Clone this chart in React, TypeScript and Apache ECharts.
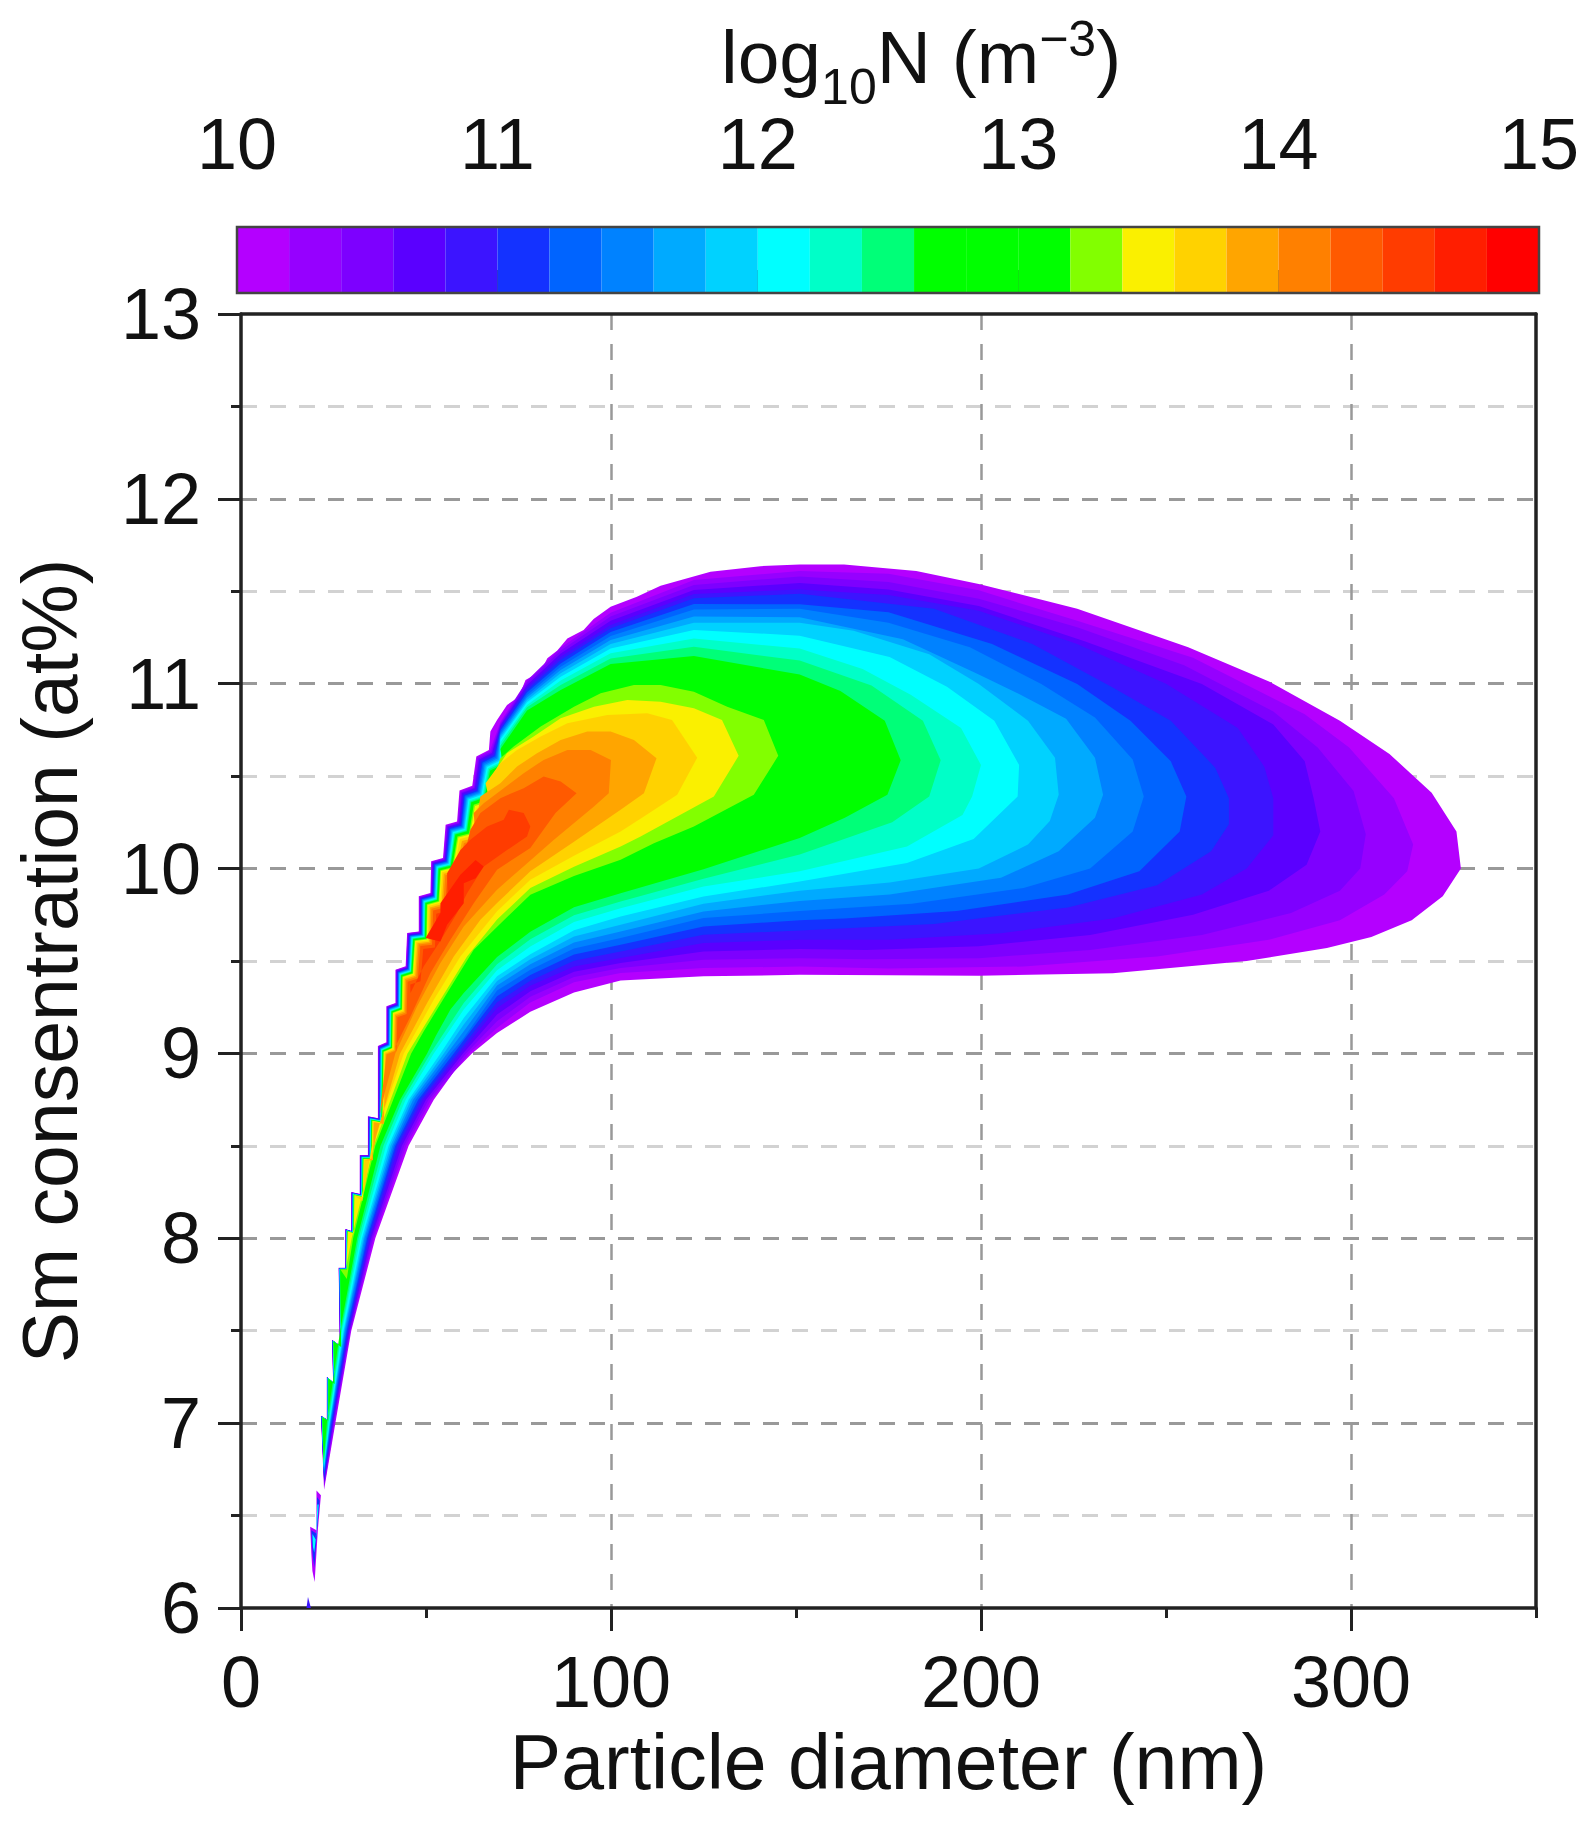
import React, { useEffect, useRef } from "react";
import * as echarts from "echarts";

type P = [number, number];

const FONT = "Liberation Sans";
const xTickValues = [0, 100, 200, 300];
const barColors = ["#B400FF","#9600FF","#7D00FF","#5A00FF","#3C14FF","#1432FF","#0064FF","#0082FF","#00AAFF","#00D2FF","#00FFFF","#00FFC8","#00FF78","#00FF00","#00FF00","#00FF00","#82FF00","#FAF000","#FFD200","#FFA500","#FF8000","#FF5A00","#FF3C00","#FF1E00","#FF0000"];
const barStart = 10;
const barStep = 0.2;

// Stepped left edge of the populated region (x nm, y at%), bottom to top
const stairEdge: P[] = [[21.6,7.04],[23.2,7.02],[23.2,7.25],[24.9,7.22],[24.6,7.45],[26.7,7.42],[26.4,7.84],[28.2,7.84],[28.2,8.05],[29.8,8.04],[29.8,8.25],[32.1,8.24],[32.1,8.45],[34.3,8.45],[34.3,8.66],[37,8.65],[37,9.04],[39.3,9.06],[39.3,9.255],[41.76,9.273],[41.76,9.453],[44.5,9.471],[44.9,9.652],[48.05,9.66],[48.05,9.85],[51.2,9.868],[51.4,10.04],[54.6,10.057],[55.3,10.237],[58.4,10.255],[59.05,10.422],[62.5,10.448],[63.6,10.606],[67,10.642]];

// Contour lines: lower arc to the tip, then upper arc back to the stepped edge
const low100: P[] = [[22.45,6.64],[25.5,7],[29.8,7.5],[36.3,8],[45.3,8.5],[52.1,8.75],[57.5,8.9],[62.4,9],[69.2,9.11],[78.2,9.225],[90,9.33],[102.6,9.395],[125,9.417],[151,9.425],[199.4,9.42],[235.6,9.434],[271.8,9.5],[293.5,9.57],[305.5,9.63],[316.4,9.72],[324.8,9.85],[329.7,10]];
const up100: P[] = [[328.5,10.2],[321.8,10.41],[310.4,10.62],[297,10.8],[278,11.01],[256,11.197],[226,11.405],[199.4,11.54],[182.5,11.61],[163,11.645],[151,11.645],[140.4,11.636],[126.9,11.606],[113.4,11.53],[107,11.47],[99.9,11.417],[95.3,11.35],[92.6,11.29],[88.2,11.245],[85.5,11.18],[82.8,11.138],[80.9,11.065],[76.9,11.02],[75.1,10.93],[71.9,10.885],[69.2,10.804],[67.4,10.741]];
const low102: P[] = [[22.5,6.66],[25.3,7],[29.6,7.5],[35.9,8],[44.7,8.5],[51.4,8.75],[61.6,9],[69.2,9.138],[78.2,9.276],[90,9.385],[102.6,9.435],[125,9.462],[151,9.47],[175,9.46],[211.5,9.47],[247.6,9.525],[277.8,9.615],[297,9.72],[309,9.86],[315.2,9.985],[316.8,10.13]];
const up102: P[] = [[311.6,10.38],[299.5,10.655],[287.5,10.835],[257.3,11.14],[226,11.34],[199.4,11.505],[175,11.595],[151,11.61],[122.4,11.561],[99.9,11.384],[86.4,11.195],[77.3,11.018],[70.1,10.793]];
const low104: P[] = [[22.5,6.67],[25.1,7],[29.5,7.5],[35.6,8],[44.1,8.5],[50.7,8.75],[60.8,9],[69.2,9.174],[78.2,9.307],[90,9.414],[102.6,9.462],[125,9.507],[151,9.515],[169,9.51],[199.4,9.515],[229.5,9.56],[259.7,9.64],[283.8,9.76],[297,9.88],[302.5,10],[304,10.185]];
const up104: P[] = [[300.7,10.42],[291,10.655],[279,10.85],[254.9,11.1],[226,11.305],[199.4,11.46],[175,11.55],[151,11.58],[122.4,11.534],[99.9,11.363],[86.4,11.179],[77.3,11.006],[70.1,10.784]];
const low106: P[] = [[22.5,6.68],[24.9,7],[29.3,7.5],[35.2,8],[43.5,8.5],[50,8.75],[60,9],[69.2,9.21],[78.2,9.337],[90,9.442],[102.6,9.489],[125,9.552],[151,9.565],[169,9.56],[199.4,9.58],[229.5,9.64],[257.3,9.75],[277.8,9.88],[288,10.02],[291.7,10.2]];
const up106: P[] = [[289.9,10.38],[287.5,10.58],[279,10.78],[259.7,10.998],[228,11.23],[199.4,11.42],[175,11.51],[151,11.545],[122.4,11.507],[99.9,11.341],[86.4,11.163],[77.3,10.993],[70.1,10.775]];
const low108: P[] = [[22.45,6.69],[24.8,7],[29.1,7.5],[34.9,8],[42.8,8.5],[49.3,8.75],[59.2,9],[69.2,9.246],[78.2,9.366],[90,9.47],[102.6,9.516],[125,9.597],[151,9.615],[175,9.615],[205.4,9.65],[235.6,9.73],[259.7,9.86],[271.8,10],[279,10.18]];
const up108: P[] = [[279,10.38],[276.6,10.55],[269.4,10.76],[250,11],[226,11.215],[199.4,11.395],[175,11.48],[151,11.51],[122.4,11.485],[99.9,11.318],[86.4,11.146],[77.3,10.981],[70.1,10.766]];
const low110: P[] = [[22.45,6.7],[24.6,7],[28.9,7.5],[34.5,8],[42.2,8.5],[48.6,8.75],[58.4,9],[69.2,9.277],[78.2,9.393],[90,9.502],[102.6,9.552],[125,9.642],[151,9.665],[187.3,9.7],[223.5,9.79],[247.6,9.91],[262.2,10.094],[267,10.24],[267,10.38]];
const up110: P[] = [[263.3,10.546],[251.3,10.8],[235.6,10.98],[213.9,11.215],[187.3,11.405],[151,11.486],[122.4,11.462],[99.9,11.3],[86.4,11.128],[77.3,10.966],[70.1,10.755]];
const low112: P[] = [[22.45,6.72],[24.4,7],[28.6,7.5],[34.1,8],[41.7,8.5],[47.9,8.75],[57.5,9],[69.2,9.309],[78.2,9.424],[90,9.535],[102.6,9.588],[125,9.687],[151,9.72],[163,9.73],[193.4,9.77],[223.5,9.86],[242.8,9.985],[253.7,10.2],[255.5,10.39]];
const up112: P[] = [[251.3,10.58],[240.4,10.8],[226,10.998],[203,11.215],[175,11.387],[151,11.43],[122.4,11.431],[99.9,11.28],[86.4,11.11],[77.3,10.952],[70.1,10.745]];
const low114: P[] = [[22.4,6.73],[24.2,7],[28.4,7.5],[33.8,8],[41.3,8.5],[47.2,8.75],[56.6,9],[60.2,9.084],[69.2,9.34],[78.2,9.453],[90,9.567],[102.6,9.624],[125,9.732],[151,9.77],[181.3,9.81],[211.5,9.895],[229.5,10],[241,10.2],[244,10.39]];
const up114: P[] = [[241,10.59],[230.8,10.817],[216.3,10.998],[197,11.197],[175,11.33],[151,11.405],[122.4,11.402],[99.9,11.258],[86.4,11.092],[77.3,10.937],[70.1,10.734]];
const low116: P[] = [[22.4,6.74],[24.1,7],[28.1,7.5],[33.4,8],[40.9,8.5],[46.5,8.75],[55.7,9],[60.2,9.12],[69.2,9.367],[78.2,9.483],[90,9.6],[102.6,9.66],[125,9.768],[151,9.825],[175.3,9.86],[205.4,9.95],[221,10.094],[230.8,10.275],[233,10.4]];
const up116: P[] = [[230.8,10.6],[223,10.81],[210.3,10.944],[199.4,11.05],[178.9,11.24],[151,11.36],[122.4,11.363],[99.9,11.237],[86.4,11.074],[77.3,10.925],[70.1,10.723]];
const low118: P[] = [[22.4,6.75],[24,7],[27.9,7.5],[33.1,8],[40.4,8.5],[45.9,8.75],[54.8,9],[60.2,9.156],[69.2,9.392],[78.2,9.51],[90,9.632],[102.6,9.696],[125,9.81],[151,9.88],[175.3,9.925],[199.4,10],[212.7,10.13],[218.6,10.257],[221,10.4]];
const up118: P[] = [[220,10.6],[212.7,10.8],[199.4,10.998],[186,11.16],[165.6,11.287],[151,11.33],[122.4,11.33],[99.9,11.215],[86.4,11.056],[77.3,10.912],[70.1,10.71]];
const low120: P[] = [[22.4,6.76],[23.9,7],[27.7,7.5],[32.7,8],[39.9,8.5],[45.3,8.75],[53.9,9],[60.2,9.192],[69.2,9.417],[78.2,9.537],[90,9.667],[102.6,9.741],[125,9.849],[151,9.93],[180,10.03],[198,10.16],[209.9,10.39]];
const up120: P[] = [[210.3,10.56],[203.6,10.8],[190.8,10.984],[175.3,11.145],[151,11.26],[122.4,11.291],[99.9,11.191],[86.4,11.038],[77.3,10.9],[70.1,10.698]];
const low122: P[] = [[22.4,6.77],[23.7,7],[27.3,7.5],[32.3,8],[39.2,8.5],[44.5,8.75],[52.1,9],[60.2,9.237],[69.2,9.45],[78.2,9.579],[90,9.711],[102.6,9.786],[125,9.903],[151,9.985],[180,10.12],[195,10.29],[197.6,10.39]];
const up122: P[] = [[200,10.56],[194.6,10.76],[181,10.94],[168,11.08],[151,11.19],[122.4,11.245],[99.9,11.165],[86.4,11.017],[77.3,10.885],[70.1,10.682]];
const low124: P[] = [[22.35,6.78],[23.5,7],[27.1,7.5],[31.8,8],[38.5,8.5],[43.7,8.75],[51.2,9],[60.2,9.273],[69.2,9.482],[78.2,9.618],[90,9.748],[102.6,9.822],[125,9.945],[151,10.076],[176,10.25],[186,10.39]];
const up124: P[] = [[189.1,10.586],[184.3,10.8],[170.4,10.99],[151,11.125],[122.4,11.2],[99.9,11.137],[86.4,10.993],[77.3,10.873],[70.1,10.665]];
const low126: P[] = [[22.35,6.8],[23.2,7],[26.8,7.5],[31.4,8],[37.7,8.5],[43,8.75],[50.3,9],[52.6,9.093],[56.6,9.237],[60.2,9.327],[69.2,9.522],[78.2,9.658],[90,9.791],[102.6,9.867],[125,9.997],[151,10.166],[163.2,10.275],[174.7,10.4]];
const up126: P[] = [[178.3,10.586],[174,10.8],[162,10.96],[151,11.05],[122.4,11.15],[99.9,11.107],[86.4,10.966],[77.3,10.855],[70.1,10.647]];
const low132: P[] = [[28.6,7.78],[30.3,8],[36.3,8.5],[46,9],[49.4,9.12],[55.7,9.327],[62.9,9.561],[70,9.7],[78.2,9.859],[90,9.96],[102.6,10.048],[111.6,10.137],[122.4,10.227],[138.6,10.399],[145.2,10.61]];
const up132: P[] = [[141.3,10.804],[131.4,10.876],[122.4,10.957],[113.4,10.993],[106.2,10.993],[97.2,10.948],[90,10.876],[81,10.768],[73.7,10.66],[70.1,10.597]];
const low134: P[] = [[28.5,7.85],[29.9,8],[35.9,8.5],[45,9],[53.9,9.29],[61.1,9.525],[69.2,9.724],[78.2,9.895],[90,10.01],[102.6,10.12],[108,10.173],[127.8,10.39],[134.5,10.61]];
const up134: P[] = [[130,10.804],[122.4,10.867],[113.4,10.903],[104.4,10.912],[95.4,10.876],[86.4,10.813],[79.1,10.714],[71.9,10.624],[68.3,10.516]];
const low136: P[] = [[32.8,8.2],[35.4,8.5],[44,9],[52.1,9.29],[59.3,9.525],[69.2,9.769],[78.2,9.94],[90,10.07],[102.6,10.2],[108.9,10.282],[117.9,10.399],[123.3,10.6]];
const up136: P[] = [[116.5,10.804],[109.8,10.84],[99,10.831],[88.2,10.786],[81,10.714],[74.6,10.642],[70.1,10.57],[66.1,10.462]];
const low138: P[] = [[35.3,8.43],[36.5,8.55],[43,9],[50.3,9.273],[57.5,9.525],[64.7,9.723],[69.2,9.814],[78.2,9.985],[90,10.145],[102.6,10.318],[108.9,10.408],[112.3,10.597]];
const up138: P[] = [[106.2,10.696],[99.9,10.741],[93.6,10.741],[86.4,10.696],[80,10.624],[74.6,10.552],[70.1,10.462],[64.7,10.39]];
const low140: P[] = [[37.5,8.67],[39,8.8],[41.7,9],[47.6,9.255],[53.9,9.489],[60.2,9.687],[69.2,9.886],[78.2,10.044],[84.5,10.155],[95.4,10.336],[99.4,10.408],[100,10.588]];
const up140: P[] = [[94.5,10.642],[88.2,10.642],[81.8,10.588],[76.4,10.516],[71,10.435],[65.6,10.354],[62.9,10.3]];
const low142: P[] = [[41.8,9.04],[45.8,9.2],[51.2,9.435],[56.6,9.615],[62.9,9.813],[69.2,9.994],[78.2,10.111],[85,10.3],[90.7,10.408]];
const up142: P[] = [[86.4,10.471],[81.8,10.498],[76.4,10.435],[70.1,10.381],[64.7,10.3],[62,10.21]];
const low144: P[] = [[45.8,9.327],[49.4,9.471],[53.5,9.597],[58.4,9.759],[61.1,9.867],[65.6,10.011],[71.9,10.1],[77.3,10.174],[78.2,10.228]];
const up144: P[] = [[76.4,10.3],[72.4,10.318],[71,10.264],[66.5,10.228],[62,10.156],[59.3,10.1],[55.7,9.975]];
const spot146: P[] = [[65.6,10.011],[63.4,9.948],[60.2,9.921],[60.2,9.813],[55.7,9.696],[53.9,9.606],[49.9,9.624],[53.9,9.759],[53.9,9.813],[59.3,9.966],[63.4,10.047]];

// Detached slivers at the lowest concentrations
const sliverOuter: P[] = [[18.7,6.44],[20.4,6.42],[20.4,6.635],[21.6,6.61],[20.8,6.43],[19.9,6.14],[19.3,6.2],[19,6.3]];
const sliverBlue: P[] = [[19,6.42],[20.55,6.4],[20.55,6.6],[21.25,6.58],[20.55,6.42],[19.85,6.22],[19.4,6.28],[19.15,6.36]];
const sliverCyan: P[] = [[19.3,6.4],[20.2,6.37],[20.65,6.56],[21,6.56],[20.35,6.4],[19.8,6.3],[19.45,6.33]];
const speck: P[] = [[17.7,6.0],[18.1,6.06],[18.9,6.0]];

const contourBands: { c: string; low: P[]; up: P[]; inset: number }[] = [
  { c: barColors[0], low: low100, up: up100, inset: 0 },
  { c: barColors[1], low: low102, up: up102, inset: 0.13 },
  { c: barColors[2], low: low104, up: up104, inset: 0.27 },
  { c: barColors[3], low: low106, up: up106, inset: 0.4 },
  { c: barColors[4], low: low108, up: up108, inset: 0.55 },
  { c: barColors[5], low: low110, up: up110, inset: 0.7 },
  { c: barColors[6], low: low112, up: up112, inset: 0.85 },
  { c: barColors[7], low: low114, up: up114, inset: 1.0 },
  { c: barColors[8], low: low116, up: up116, inset: 1.15 },
  { c: barColors[9], low: low118, up: up118, inset: 1.3 },
  { c: barColors[10], low: low120, up: up120, inset: 1.45 },
  { c: barColors[11], low: low122, up: up122, inset: 1.6 },
  { c: barColors[12], low: low124, up: up124, inset: 1.75 },
  { c: barColors[13], low: low126, up: up126, inset: 1.9 },
  { c: barColors[16], low: low132, up: up132, inset: 2.3 },
  { c: barColors[17], low: low134, up: up134, inset: 2.5 },
  { c: barColors[18], low: low136, up: up136, inset: 2.8 },
  { c: barColors[19], low: low138, up: up138, inset: 3.2 },
  { c: barColors[20], low: low140, up: up140, inset: 3.6 },
  { c: barColors[21], low: low142, up: up142, inset: 4.1 },
  { c: barColors[22], low: low144, up: up144, inset: 5 },
];

function outline(low: P[], up: P[], inset: number): P[] {
  const y0 = low[0][1];
  const y1 = up[up.length - 1][1];
  const edge = stairEdge
    .filter((p) => p[1] > y0 && p[1] < y1)
    .reverse()
    .map((p): P => {
      const y = p[1];
      const f = y < 10 ? Math.max(0.2, (y - 7.3) / 2.7) : 1 + (y - 10) * 1.6;
      return [p[0] + inset * f, y - inset * f * 0.02];
    });
  return [...low, ...up, ...edge];
}

const contourShapes: { c: string; pts: P[] }[] = [
  ...contourBands.map((b) => ({ c: b.c, pts: outline(b.low, b.up, b.inset) })),
  { c: barColors[23], pts: spot146 },
  { c: barColors[0], pts: sliverOuter },
  { c: barColors[5], pts: sliverBlue },
  { c: barColors[10], pts: sliverCyan },
  { c: barColors[4], pts: speck },
];

const AXIS = "#222222";
const TEXT = "#111111";

export default function App() {
  const ref = useRef<HTMLDivElement>(null);
  useEffect(() => {
    const chart = echarts.init(ref.current!, null, { renderer: "svg" });
    const label = { fontFamily: FONT, fontSize: 72, color: TEXT };
    const frameLine = { show: true, onZero: false, lineStyle: { color: AXIS, width: 3.5 } };
    chart.setOption({
      animation: false,
      backgroundColor: "#fff",
      title: {
        text: "{b|log}{s|10}{b|N (m}{u|−3}{b|)}",
        left: 716,
        top: -3,
        textStyle: {
          fontWeight: "normal",
          rich: {
            b: { fontFamily: FONT, fontSize: 75, fontWeight: "normal", color: TEXT, lineHeight: 110, verticalAlign: "middle" },
            s: { fontFamily: FONT, fontSize: 50, fontWeight: "normal", color: TEXT, lineHeight: 50, verticalAlign: "bottom" },
            u: { fontFamily: FONT, fontSize: 50, fontWeight: "normal", color: TEXT, lineHeight: 50, verticalAlign: "top", padding: [12, 0, 0, 0] },
          },
        },
      },
      grid: [
        { left: 241, right: 59, top: 314, bottom: 213 },
        { left: 237, right: 56, top: 227, height: 66 },
      ],
      xAxis: [
        {
          type: "value", gridIndex: 0, min: 0, max: 350, interval: 100,
          name: "Particle diameter (nm)", nameLocation: "middle", nameGap: 115,
          nameTextStyle: { fontFamily: FONT, fontSize: 77, color: TEXT },
          axisLine: frameLine,
          axisTick: { show: true, customValues: xTickValues, length: 23, lineStyle: { color: AXIS, width: 3 } },
          axisLabel: { ...label, margin: 38, showMaxLabel: false },
          splitLine: { show: true, showMinLine: false, lineStyle: { color: "#999", width: 2.5, type: [16, 14] } },
        },
        {
          type: "value", gridIndex: 0, min: 0, max: 350, interval: 50, position: "bottom",
          axisLine: { show: false },
          axisTick: { show: true, length: 10, lineStyle: { color: AXIS, width: 3 } },
          axisLabel: { show: false },
          splitLine: { show: false },
        },
        {
          type: "value", gridIndex: 1, min: barStart, max: 15, interval: 1, position: "top",
          axisLine: { show: false },
          axisTick: { show: true, length: 23, lineStyle: { color: "#555", width: 2 } },
          axisLabel: { ...label, margin: 47 },
          splitLine: { show: false },
        },
        {
          type: "value", gridIndex: 0, min: 0, max: 350, position: "top",
          axisLine: frameLine, axisTick: { show: false }, axisLabel: { show: false }, splitLine: { show: false },
        },
      ],
      yAxis: [
        {
          type: "value", gridIndex: 0, min: 6, max: 13, interval: 1,
          name: "Sm consentration (at%)", nameLocation: "middle", nameGap: 153, nameRotate: 90,
          nameTextStyle: { fontFamily: FONT, fontSize: 77, color: TEXT },
          axisLine: frameLine,
          axisTick: { show: true, length: 23, lineStyle: { color: AXIS, width: 3 } },
          minorTick: { show: true, splitNumber: 2, length: 10, lineStyle: { color: AXIS, width: 3 } },
          axisLabel: { ...label, margin: 40 },
          splitLine: { show: true, showMinLine: false, showMaxLine: false, lineStyle: { color: "#999", width: 3, type: [16, 13] } },
          minorSplitLine: { show: true, lineStyle: { color: "#d2d2d2", width: 3, type: [16, 13] } },
        },
        { type: "value", gridIndex: 1, min: 0, max: 1, show: false },
        {
          type: "value", gridIndex: 0, min: 6, max: 13, position: "right",
          axisLine: frameLine, axisTick: { show: false }, axisLabel: { show: false }, splitLine: { show: false },
        },
      ],
      series: [
        {
          type: "custom", xAxisIndex: 0, yAxisIndex: 0, coordinateSystem: "cartesian2d", silent: true,
          data: contourShapes.map((_, i) => [i]),
          renderItem: (params: any, api: any) => {
            const s = contourShapes[params.dataIndex];
            return { type: "polygon", shape: { points: s.pts.map((p) => api.coord(p)) }, style: { fill: s.c } };
          },
        },
        {
          type: "custom", xAxisIndex: 2, yAxisIndex: 1, coordinateSystem: "cartesian2d", silent: true,
          data: barColors.map((_, i) => [i]),
          renderItem: (params: any, api: any) => {
            const i = params.dataIndex;
            const a = api.coord([barStart + i * barStep, 1]);
            const b = api.coord([barStart + (i + 1) * barStep, 0]);
            return { type: "rect", shape: { x: a[0], y: a[1], width: b[0] - a[0], height: b[1] - a[1] }, style: { fill: barColors[i] } };
          },
        },
        {
          type: "custom", xAxisIndex: 2, yAxisIndex: 1, coordinateSystem: "cartesian2d", silent: true, z: 5,
          data: [[0]],
          renderItem: (_: any, api: any) => {
            const a = api.coord([barStart, 1]);
            const b = api.coord([15, 0]);
            return { type: "rect", shape: { x: a[0], y: a[1], width: b[0] - a[0], height: b[1] - a[1] }, style: { fill: "none", stroke: "#444", lineWidth: 2.5 } };
          },
        },
      ],
    });
    return () => chart.dispose();
  }, []);
  return <div ref={ref} style={{ position: "absolute", left: 0, top: 0, width: 1595, height: 1821 }} />;
}
